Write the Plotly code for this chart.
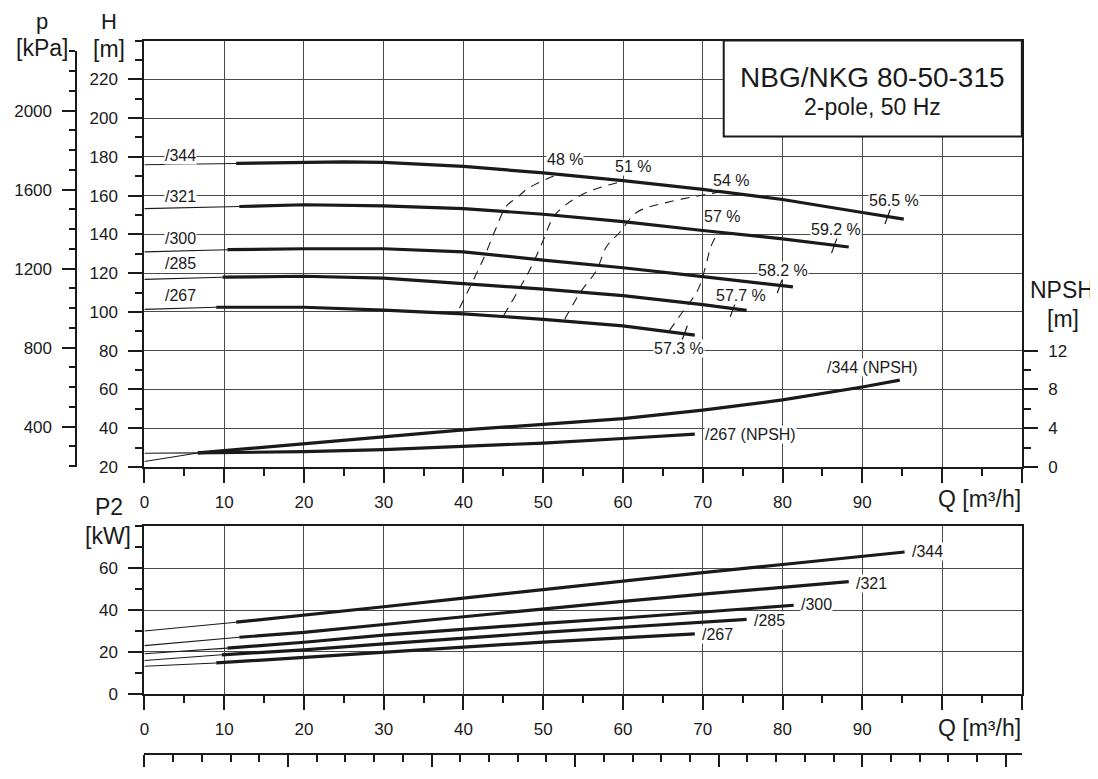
import plotly.graph_objects as go

# ---------------- data ----------------
# Q-H curves (thick part) and head at Q=0 (thin extrapolation)
q_h344 = [11.5, 20, 25, 30, 40, 50, 60, 70, 80, 90, 95.2]
h_h344 = [176.6, 177.1, 177.4, 177.2, 175.1, 171.7, 167.7, 163.2, 158.0, 151.3, 147.9]
q_h321 = [11.9, 20, 30, 40, 50, 60, 70, 80, 88.3]
h_h321 = [154.4, 155.3, 154.7, 153.3, 150.4, 146.6, 142.0, 137.7, 133.5]
q_h300 = [10.4, 20, 30, 40, 50, 60, 70, 80, 81.3]
h_h300 = [132.1, 132.6, 132.6, 131.0, 126.7, 122.8, 118.2, 113.6, 112.9]
q_h285 = [9.8, 20, 30, 40, 50, 60, 70, 75.5]
h_h285 = [117.9, 118.4, 117.4, 114.8, 111.8, 108.4, 103.8, 100.8]
q_h267 = [9.0, 20, 30, 40, 50, 60, 69]
h_h267 = [102.4, 102.4, 100.9, 99.0, 96.2, 92.8, 88.0]
h_at_q0 = [175.9, 153.3, 131.0, 116.8, 101.3]
impellers = ["/344", "/321", "/300", "/285", "/267"]
label_q = [4.5, 4.5, 4.5, 4.5, 4.5]
label_h = [180.8, 159.4, 137.7, 125.0, 108.5]

# iso-efficiency curves (dashed)
q_e48 = [39.5, 41.25, 42.7, 43.96, 45.4, 46.7, 47.9, 49.4, 51.9]
h_e48 = [102.0, 116.5, 129.3, 142.0, 154.7, 158.9, 163.2, 166.6, 171.1]
q_e51 = [45.0, 46.7, 48.3, 50.0, 51.25, 52.9, 55.8, 60.0]
h_e51 = [97.9, 109.8, 121.6, 136.9, 148.8, 155.5, 162.3, 167.4]
q_e54 = [52.7, 54.6, 56.7, 57.9, 59.6, 61.7, 65.4, 70.0, 72.3]
h_e54 = [96.2, 109.8, 121.6, 133.5, 141.1, 151.3, 156.4, 160.3, 162.0]
q_e57 = [65.8, 67.1, 69.4, 70.4, 71.0, 71.9]
h_e57 = [90.2, 97.9, 111.5, 124.2, 133.5, 141.1]
eff_labels = ["48 %", "51 %", "54 %", "57 %"]
eff_label_q = [52.7, 61.2, 73.5, 72.4]
eff_label_h = [178.4, 175.1, 168.0, 149.4]

# best-efficiency marks on each Q-H curve
bep_q = [93.2, 86.5, 79.7, 73.8, 67.7]
bep_h = [149.4, 134.4, 113.8, 101.5, 88.8]
bep_labels = ["56.5 %", "59.2 %", "58.2 %", "57.7 %", "57.3 %"]
bep_label_q = [94.0, 86.7, 80.1, 74.8, 67.0]
bep_label_h = [157.6, 142.4, 121.6, 108.5, 80.9]

# NPSH curves
q_n344 = [6.7, 10, 20, 30, 40, 50, 60, 70, 80, 90, 94.7]
n_n344 = [1.45, 1.69, 2.44, 3.15, 3.82, 4.40, 4.98, 5.87, 6.92, 8.25, 8.96]
n344_q0 = 0.57
q_n267 = [6.7, 10, 20, 30, 40, 50, 60, 69]
n_n267 = [1.45, 1.48, 1.58, 1.79, 2.09, 2.47, 2.94, 3.38]
n267_q0 = 1.42
npsh_labels = ["/344 (NPSH)", "/267 (NPSH)"]
npsh_label_q = [91.25, 76.0]
npsh_label_n = [10.25, 3.3]

# P2 curves
q_p344 = [11.5, 20, 30, 40, 50, 60, 70, 80, 90, 95.3]
p_p344 = [34.2, 37.5, 41.6, 45.7, 49.8, 54.0, 57.9, 61.8, 65.7, 67.8]
q_p321 = [11.9, 20, 30, 40, 50, 60, 70, 80, 88.3]
p_p321 = [27.0, 29.3, 33.1, 36.9, 40.7, 44.2, 47.6, 50.9, 53.6]
q_p300 = [10.4, 20, 30, 40, 50, 60, 70, 81.4]
p_p300 = [21.8, 24.6, 28.0, 30.9, 33.6, 36.2, 39.1, 42.3]
q_p285 = [9.7, 20, 30, 40, 50, 60, 70, 75.5]
p_p285 = [18.6, 21.0, 23.8, 26.6, 29.3, 31.8, 34.2, 35.6]
q_p267 = [9.0, 20, 30, 40, 50, 60, 69]
p_p267 = [14.7, 17.5, 19.9, 22.3, 24.7, 26.9, 28.6]
p_at_q0 = [30.0, 23.0, 19.1, 15.9, 13.1]
p_label_q = [98.2, 91.1, 84.3, 78.4, 71.9]
p_label_p = [67.8, 52.5, 42.6, 35.2, 28.1]

# axis ticks
q_ticks = [0, 10, 20, 30, 40, 50, 60, 70, 80, 90, 100, 110]
q_ticktext = ["0", "10", "20", "30", "40", "50", "60", "70", "80", "90", "", ""]
h_ticks = [20, 40, 60, 80, 100, 120, 140, 160, 180, 200, 220]
npsh_ticks = [0, 4, 8, 12]
npsh_minor = [2, 6, 10]
p2_ticks = [0, 20, 40, 60]
kpa_ticks = [400, 800, 1200, 1600, 2000]
ls_ticks = [0, 5, 10, 15, 20, 25, 30]

# ---------------- layout geometry (reference pixels -> paper) ----------------
# the page body has an 8 px margin, so the figure is 8 px smaller and
# every reference pixel position is shifted by that offset
OFF = 8
W, HT = 1098 - OFF, 779 - OFF
def px(x):
    return (x - OFF) / W
def py(y):
    return 1 - (y - OFF) / HT

X0, X1 = px(140), px(1021.5)
YU0, YU1 = py(473), py(41)
YL0, YL1 = py(702.7), py(533.3)
H_MIN, H_MAX = 20, 240
KPA_PER_M = 9.81
KPA_TOP = 2300
kpa_dom_top = YU0 + (KPA_TOP / KPA_PER_M - H_MIN) / (H_MAX - H_MIN) * (YU1 - YU0)

FONT = "Liberation Sans, Arial, Helvetica, sans-serif"
INK = "#1a1a1a"
GRID = "#4a4a4a"

fig = go.Figure()

def line(x, y, xa, ya, width, dash=None):
    fig.add_trace(go.Scatter(x=x, y=y, xaxis=xa, yaxis=ya, mode="lines",
                             line=dict(color=INK, width=width, dash=dash),
                             hoverinfo="skip", showlegend=False))

qh_sets = [(q_h344, h_h344), (q_h321, h_h321), (q_h300, h_h300), (q_h285, h_h285), (q_h267, h_h267)]
for (q, h), h0 in zip(qh_sets, h_at_q0):
    line([0, q[0]], [h0, h[0]], "x", "y", 1.1)
    line(q, h, "x", "y", 3.2)

for q, h in [(q_e48, h_e48), (q_e51, h_e51), (q_e54, h_e54), (q_e57, h_e57)]:
    fig.add_trace(go.Scatter(x=q, y=h, xaxis="x", yaxis="y", mode="lines",
                             line=dict(color=INK, width=1.1, dash="9px,7px", shape="spline"),
                             hoverinfo="skip", showlegend=False))

fig.add_trace(go.Scatter(x=bep_q, y=bep_h, xaxis="x", yaxis="y", mode="markers",
                         marker=dict(symbol="line-ns", size=12, angle=20,
                                     line=dict(color=INK, width=1.2)),
                         hoverinfo="skip", showlegend=False))

line([0, q_n344[0]], [n344_q0, n_n344[0]], "x", "y2", 1.1)
line(q_n344, n_n344, "x", "y2", 3.2)
line([0, q_n267[0]], [n267_q0, n_n267[0]], "x", "y2", 1.1)
line(q_n267, n_n267, "x", "y2", 3.2)

qp_sets = [(q_p344, p_p344), (q_p321, p_p321), (q_p300, p_p300), (q_p285, p_p285), (q_p267, p_p267)]
for (q, p), p0 in zip(qp_sets, p_at_q0):
    line([0, q[0]], [p0, p[0]], "x2", "y3", 1.1)
    line(q, p, "x2", "y3", 3.2)

# invisible anchors so the secondary scales (kPa, l/s) are drawn
fig.add_trace(go.Scatter(x=[0], y=[KPA_TOP], xaxis="x4", yaxis="y4", mode="markers",
                         marker=dict(opacity=0), hoverinfo="skip", showlegend=False))
fig.add_trace(go.Scatter(x=[0], y=[0], xaxis="x3", yaxis="y3", mode="markers",
                         marker=dict(opacity=0), hoverinfo="skip", showlegend=False))

# ---------------- axes ----------------
tickfont = dict(family=FONT, size=17, color=INK)
common_x = dict(range=[0, 110], tickvals=q_ticks, ticktext=q_ticktext, ticks="outside",
                ticklen=14, tickwidth=2, tickcolor=INK, tickfont=tickfont,
                minor=dict(dtick=5, tick0=0, ticks="outside", ticklen=7, tickwidth=1.5,
                           tickcolor=INK, showgrid=False),
                showgrid=True, gridcolor=GRID, gridwidth=1, showline=True, linewidth=2,
                linecolor=INK, mirror=True, zeroline=False, domain=[X0, X1], ticklabelstandoff=5)

fig.update_layout(
    width=W, height=HT, margin=dict(l=0, r=0, t=0, b=0),
    paper_bgcolor="white", plot_bgcolor="rgba(0,0,0,0)", showlegend=False,
    font=dict(family=FONT, color=INK),
    xaxis=dict(anchor="y", **common_x),
    xaxis2=dict(anchor="y3", **common_x),
    xaxis3=dict(overlaying="x2", anchor="free", position=py(764), range=[0, 110 / 3.6],
                tickvals=ls_ticks, ticks="outside", ticklen=12, tickwidth=2, tickcolor=INK,
                minor=dict(dtick=1, tick0=0, ticks="outside", ticklen=7, tickwidth=1.5,
                           tickcolor=INK, showgrid=False),
                showticklabels=False, showgrid=False, showline=True, linewidth=2,
                linecolor=INK, zeroline=False, side="bottom"),
    xaxis4=dict(domain=[X0, X1], anchor="y4", range=[0, 110], visible=False),
    yaxis=dict(domain=[YU0, YU1], anchor="x", range=[H_MIN, H_MAX], tickvals=h_ticks,
               ticks="outside", ticklen=14, tickwidth=2, tickcolor=INK, tickfont=tickfont,
               minor=dict(dtick=10, tick0=0, ticks="outside", ticklen=7, tickwidth=1.5,
                          tickcolor=INK, showgrid=False),
               showgrid=True, gridcolor=GRID, gridwidth=1, showline=True, linewidth=2,
               linecolor=INK, mirror=False, zeroline=False, ticklabelstandoff=7),
    yaxis2=dict(overlaying="y", side="right", anchor="x",
                range=[0, (H_MAX - H_MIN) / 5], tickvals=npsh_ticks, ticks="outside",
                ticklen=14, tickwidth=2, tickcolor=INK, tickfont=tickfont,
                minor=dict(tickvals=npsh_minor, ticks="outside", ticklen=7, tickwidth=1.5,
                           tickcolor=INK, showgrid=False),
                showgrid=False, showline=True, linewidth=2, linecolor=INK, zeroline=False,
                ticklabelstandoff=7),
    yaxis3=dict(domain=[YL0, YL1], anchor="x2", range=[0, 80], tickvals=p2_ticks,
                ticks="outside", ticklen=14, tickwidth=2, tickcolor=INK, tickfont=tickfont,
                minor=dict(dtick=10, tick0=0, ticks="outside", ticklen=7, tickwidth=1.5,
                           tickcolor=INK, showgrid=False),
                showgrid=True, gridcolor=GRID, gridwidth=1, showline=True, linewidth=2,
                linecolor=INK, mirror=True, zeroline=False, ticklabelstandoff=7),
    yaxis4=dict(domain=[YU0, kpa_dom_top], anchor="free", position=px(71.7), side="left",
                range=[H_MIN * KPA_PER_M, KPA_TOP], tickvals=kpa_ticks, ticks="outside",
                ticklen=13, tickwidth=2, tickcolor=INK, tickfont=tickfont,
                minor=dict(dtick=100, tick0=0, ticks="outside", ticklen=6.5, tickwidth=1.5,
                           tickcolor=INK, showgrid=False),
                showgrid=False, showline=True, linewidth=2, linecolor=INK, zeroline=False,
                ticklabelstandoff=7),
)

# ---------------- title box ----------------
fig.add_shape(type="rect", xref="paper", yref="paper", x0=px(722), x1=X1, y0=py(138.3), y1=YU1,
              line=dict(color=INK, width=2), fillcolor="white", layer="above")

ann = []
def text(t, x, y, xref, yref, size, bg=None, xanchor="center", yanchor="middle"):
    d = dict(text=t, x=x, y=y, xref=xref, yref=yref, showarrow=False, borderpad=0,
             font=dict(family=FONT, size=size, color=INK), xanchor=xanchor, yanchor=yanchor)
    if bg:
        d.update(bgcolor=bg)
    ann.append(d)

text("NBG/NKG 80-50-315", px(871.5), py(78), "paper", "paper", 28)
text("2-pole, 50 Hz", px(871.5), py(108.5), "paper", "paper", 23)

# axis titles
text("p", px(37), py(21.5), "paper", "paper", 22)
text("[kPa]", px(37), py(49), "paper", "paper", 23)
text("H", px(104.5), py(21.5), "paper", "paper", 22)
text("[m]", px(104), py(50), "paper", "paper", 23)
text("NPSH", px(1062), py(294), "paper", "paper", 23)
text("[m]", px(1063), py(323), "paper", "paper", 23)
text("P2", px(104.5), py(514), "paper", "paper", 23)
text("[kW]", px(103.3), py(542.5), "paper", "paper", 23)
text("Q [m³/h]", X1, py(505), "paper", "paper", 23, xanchor="right")
text("Q [m³/h]", X1, py(737), "paper", "paper", 23, xanchor="right")

for t, q, h in zip(impellers, label_q, label_h):
    text(t, q, h, "x", "y", 16, bg="white")
for t, q, h in zip(eff_labels, eff_label_q, eff_label_h):
    text(t, q, h, "x", "y", 16, bg="white")
for t, q, h in zip(bep_labels, bep_label_q, bep_label_h):
    text(t, q, h, "x", "y", 16, bg="white")
for t, q, n in zip(npsh_labels, npsh_label_q, npsh_label_n):
    text(t, q, n, "x", "y2", 16, bg="white")
for t, q, p in zip(impellers, p_label_q, p_label_p):
    text(t, q, p, "x2", "y3", 16, bg="white")

fig.update_layout(annotations=ann)
fig.write_html("out.html")
